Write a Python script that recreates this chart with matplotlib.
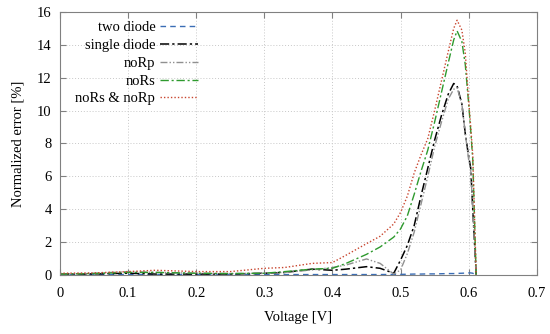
import matplotlib
matplotlib.use('Agg')
import matplotlib.pyplot as plt

plt.rcParams['font.family'] = ['Liberation Serif', 'DejaVu Serif']

# voltage samples [V]
voltage = [0, 0.05, 0.1, 0.14, 0.2, 0.25, 0.3, 0.33, 0.37, 0.4, 0.42, 0.45, 0.47,
           0.49, 0.5, 0.51, 0.52, 0.53, 0.54, 0.55, 0.56, 0.57, 0.578, 0.583,
           0.59, 0.595, 0.6, 0.603, 0.606, 0.611]

# normalized error [%]
two_diode = [0.02, 0.02, 0.02, 0.02, 0.02, 0.02, 0.02, 0.02, 0.02, 0.02, 0.02, 0.02, 0.02,
             0.03, 0.03, 0.04, 0.05, 0.05, 0.06, 0.06, 0.07, 0.08, 0.08, 0.09,
             0.1, 0.11, 0.12, 0.12, 0.1, 0.0]
single_diode = [0.05, 0.06, 0.1, 0.05, 0.05, 0.05, 0.1, 0.15, 0.35, 0.28, 0.35, 0.5, 0.4,
                0.1, 0.9, 1.8, 3.0, 4.8, 6.5, 8.2, 9.7, 11.0, 11.65, 11.5,
                10.4, 8.6, 7.2, 6.5, 4.0, 0.0]
no_rp = [0.05, 0.1, 0.2, 0.15, 0.1, 0.08, 0.1, 0.15, 0.3, 0.45, 0.6, 0.97, 0.7,
         0.05, 0.3, 1.3, 2.6, 4.3, 6.0, 7.8, 9.3, 10.7, 11.3, 11.4,
         10.4, 8.6, 7.0, 6.4, 4.0, 0.0]
no_rs = [0.05, 0.08, 0.15, 0.15, 0.1, 0.08, 0.1, 0.2, 0.35, 0.4, 0.7, 1.25, 1.7,
         2.3, 2.8, 3.6, 4.9, 6.3, 7.6, 9.3, 11.1, 12.9, 14.3, 14.85,
         14.2, 12.8, 10.4, 8.8, 7.0, 0.0]
no_rs_rp = [0.1, 0.12, 0.2, 0.28, 0.2, 0.2, 0.4, 0.45, 0.7, 0.75, 1.2, 1.9, 2.35,
            3.1, 3.8, 4.8, 6.2, 7.3, 8.3, 10.0, 11.8, 13.6, 15.0, 15.5,
            14.9, 13.5, 10.6, 9.0, 7.3, 0.0]

fig, ax = plt.subplots(figsize=(5.5, 3.34), dpi=100)
fig.subplots_adjust(left=0.109, right=0.976, bottom=0.177, top=0.964)

ax.plot(voltage, two_diode, color='#3a6db5', linestyle=(0, (4, 3)), linewidth=1, label='two diode')
ax.plot(voltage, single_diode, color='black', linestyle=(0, (6, 2, 1.5, 2)), linewidth=1.1, label='single diode')
ax.plot(voltage, no_rp, color='#909090', linestyle=(0, (5, 1.5, 1, 1.5, 1, 1.5)), linewidth=1, label='noRp')
ax.plot(voltage, no_rs, color='#2e9a2e', linestyle=(0, (6, 2, 1.5, 2)), linewidth=1, label='noRs')
ax.plot(voltage, no_rs_rp, color='#c8452e', linestyle=(0, (1, 1.5)), linewidth=1, label='noRs & noRp')

ax.set_xlim(0, 0.7)
ax.set_ylim(0, 16)
ax.set_xticks([0, 0.1, 0.2, 0.3, 0.4, 0.5, 0.6, 0.7])
ax.set_xticklabels(['0', '0.1', '0.2', '0.3', '0.4', '0.5', '0.6', '0.7'])
ax.set_yticks(range(0, 17, 2))
ax.tick_params(direction='in', top=True, right=True, color='#808080', labelsize=10.5, length=4)
ax.tick_params(axis='x', pad=9)
ax.tick_params(axis='y', pad=6)
for key in ax.spines:
    ax.spines[key].set_color('#808080')
ax.grid(True, color='#c8c8c8', linestyle=(0, (1, 2)), linewidth=0.7)

ax.set_xlabel('Voltage [V]', fontsize=10.5, labelpad=8)
ax.set_ylabel('Normalized error [%]', fontsize=10.5, labelpad=9)

leg = ax.legend(loc='upper left', markerfirst=False, frameon=False, fontsize=10.5,
                handlelength=2.55, handletextpad=0.35, labelspacing=0.32,
                borderaxespad=0.2, bbox_to_anchor=(0.014, 1.0))
for t in leg.get_texts():
    t.set_ha('right')
leg._legend_box.align = 'right'

fig.savefig('out.png', dpi=100)
